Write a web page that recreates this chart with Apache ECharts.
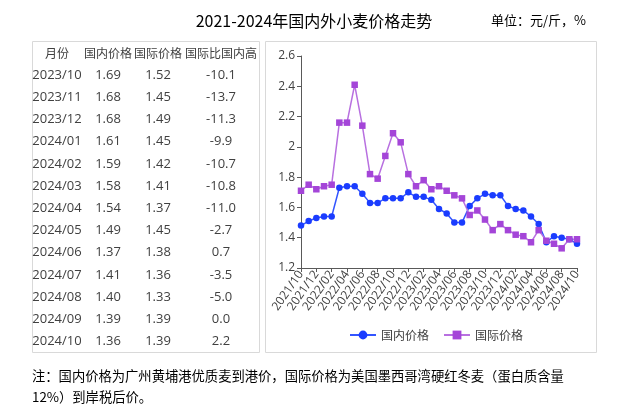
<!DOCTYPE html>
<html><head><meta charset="utf-8">
<script src="https://cdn.jsdelivr.net/npm/echarts@6/dist/echarts.min.js"></script>
<style>html,body{margin:0;padding:0;background:#fff}#c{width:628px;height:407px}</style>
</head><body><div id="c"></div>
<script>
const months = ["2021/10","2021/11","2021/12","2022/01","2022/02","2022/03","2022/04","2022/05","2022/06","2022/07","2022/08","2022/09","2022/10","2022/11","2022/12","2023/01","2023/02","2023/03","2023/04","2023/05","2023/06","2023/07","2023/08","2023/09","2023/10","2023/11","2023/12","2024/01","2024/02","2024/03","2024/04","2024/05","2024/06","2024/07","2024/08","2024/09","2024/10"];
const domestic = [1.48,1.51,1.53,1.54,1.54,1.73,1.74,1.74,1.69,1.63,1.63,1.66,1.66,1.66,1.70,1.67,1.67,1.65,1.59,1.56,1.50,1.50,1.61,1.66,1.69,1.68,1.68,1.61,1.59,1.58,1.54,1.49,1.37,1.41,1.40,1.39,1.36];
const international = [1.71,1.75,1.72,1.74,1.75,2.16,2.16,2.41,2.14,1.82,1.79,1.94,2.09,2.03,1.82,1.74,1.78,1.72,1.74,1.71,1.68,1.66,1.55,1.58,1.52,1.45,1.49,1.45,1.42,1.41,1.37,1.45,1.38,1.36,1.33,1.39,1.39];

const tableHeader = ["月份","国内价格","国际价格","国际比国内高"];
const tableMonths = ["2023/10","2023/11","2023/12","2024/01","2024/02","2024/03","2024/04","2024/05","2024/06","2024/07","2024/08","2024/09","2024/10"];
const tableDomestic = ["1.69","1.68","1.68","1.61","1.59","1.58","1.54","1.49","1.37","1.41","1.40","1.39","1.36"];
const tableIntl = ["1.52","1.45","1.49","1.45","1.42","1.41","1.37","1.45","1.38","1.36","1.33","1.39","1.39"];
const tableDiff = ["-10.1","-13.7","-11.3","-9.9","-10.7","-10.8","-11.0","-2.7","0.7","-3.5","-5.0","0.0","2.2"];

const titleText = "2021-2024年国内外小麦价格走势";
const unitText = "单位：元/斤，%";
const noteLine1 = "注：国内价格为广州黄埔港优质麦到港价，国际价格为美国墨西哥湾硬红冬麦（蛋白质含量";
const noteLine2 = "12%）到岸税后价。";

const FONT = '"Open Sans","Noto Sans CJK SC",sans-serif';
const colX = [57, 108, 158, 221];
const graphic = [];
graphic.push({type:'rect', shape:{x:32.5,y:41.5,width:227,height:311}, style:{fill:'none',stroke:'#d9d9d9',lineWidth:1}});
graphic.push({type:'rect', shape:{x:265.5,y:41.5,width:331,height:311}, style:{fill:'none',stroke:'#d9d9d9',lineWidth:1}});
graphic.push({type:'text', x:314, y:21, style:{text:titleText, font:'16px "Noto Sans CJK SC",sans-serif', fill:'#000', textAlign:'center', textVerticalAlign:'middle'}});
graphic.push({type:'text', x:586, y:20, style:{text:unitText, font:'13px "Noto Sans CJK SC",sans-serif', fill:'#000', textAlign:'right', textVerticalAlign:'middle'}});
tableHeader.forEach((h,i)=>{
  graphic.push({type:'text', x:colX[i], y:53, style:{text:h, font:'12px "Noto Sans CJK SC",sans-serif', fill:'#404040', textAlign:'center', textVerticalAlign:'middle'}});
});
tableMonths.forEach((m,r)=>{
  const y = 75 + r*22.2;
  const vals = [m, tableDomestic[r], tableIntl[r], tableDiff[r]];
  vals.forEach((v,i)=>{
    graphic.push({type:'text', x:colX[i], y:y, style:{text:v, font:'13px '+FONT, fill:'#404040', textAlign:'center', textVerticalAlign:'middle'}});
  });
});
graphic.push({type:'text', x:32, y:376, style:{text:noteLine1, font:'13.3px "Noto Sans CJK SC",sans-serif', fill:'#000', textVerticalAlign:'middle'}});
graphic.push({type:'text', x:32, y:397, style:{text:noteLine2, font:'13.3px "Noto Sans CJK SC",sans-serif', fill:'#000', textVerticalAlign:'middle'}});

const chart = echarts.init(document.getElementById('c'), null, {renderer:'canvas'});
chart.setOption({
  animation:false,
  grid:{left:301, right:51, top:56, bottom:139, containLabel:false},
  xAxis:{type:'category', data:months, boundaryGap:false,
    axisLine:{lineStyle:{color:'#595959',width:1}},
    axisTick:{show:true, interval:1, length:4, lineStyle:{color:'#595959'}},
    axisLabel:{interval:1, rotate:55, fontSize:12, color:'#404040', fontFamily:FONT, margin:4}},
  yAxis:{type:'value', min:1.2, max:2.6, interval:0.2,
    axisLine:{show:true, lineStyle:{color:'#595959',width:1}},
    axisTick:{show:true, length:4, lineStyle:{color:'#595959'}},
    splitLine:{show:false},
    axisLabel:{fontSize:12, color:'#404040', fontFamily:FONT, margin:6, formatter:v=>String(+v.toFixed(1))}},
  legend:{left:344, top:324, itemWidth:26, itemHeight:11, itemGap:14,
    textStyle:{fontSize:12, color:'#404040', fontFamily:'"Noto Sans CJK SC",sans-serif'},
    data:['国内价格','国际价格']},
  series:[
    {name:'国内价格', type:'line', data:domestic, symbol:'circle', symbolSize:6.5, showAllSymbol:true,
      lineStyle:{color:'#3355ff', width:1.5}, itemStyle:{color:'#1a3cff'}},
    {name:'国际价格', type:'line', data:international, symbol:'rect', symbolSize:6.5, showAllSymbol:true,
      lineStyle:{color:'#b870e0', width:1.5}, itemStyle:{color:'#a445d8'}}
  ],
  graphic:graphic
});
</script></body></html>
